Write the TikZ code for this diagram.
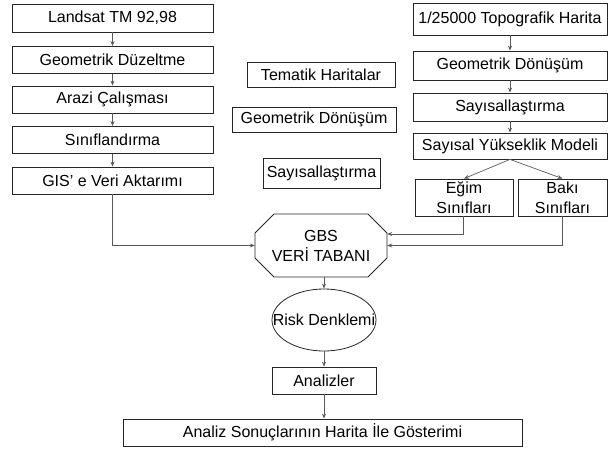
\documentclass[tikz,border=0pt]{standalone}
\usepackage{fontspec}
\setmainfont{Liberation Sans}
\usetikzlibrary{shapes.geometric,arrows.meta}
\begin{document}
\begin{tikzpicture}[x=1pt,y=-1pt,
  font=\fontsize{16}{20}\selectfont,
  box/.style={draw=black!85,line width=0.8pt,rectangle,inner sep=0pt,align=center},
  arr/.style={draw=black!65,line width=0.7pt,-{Stealth[length=5pt,width=4pt]}},
  ln/.style={draw=black!65,line width=0.7pt}]
\useasboundingbox (0,0) rectangle (608,453);
% left column
\node[box,minimum width=201,minimum height=28] (l1) at (112.5,18) {Landsat TM 92,98};
\node[box,minimum width=201,minimum height=27] (l2) at (112.5,60) {Geometrik Düzeltme};
\node[box,minimum width=201,minimum height=27] (l3) at (112.5,99.5) {Arazi Çalışması};
\node[box,minimum width=201,minimum height=27] (l4) at (112.5,140) {Sınıflandırma};
\node[box,minimum width=201,minimum height=27] (l5) at (112.5,180.5) {GIS' e Veri Aktarımı};
% right column
\node[box,minimum width=194,minimum height=32] (r1) at (510,19) {1/25000 Topografik Harita};
\node[box,minimum width=194,minimum height=29] (r2) at (510,65.5) {Geometrik Dönüşüm};
\node[box,minimum width=194,minimum height=28] (r3) at (510,107) {Sayısallaştırma};
\node[box,minimum width=194,minimum height=26] (r4) at (510,146) {Sayısal Yükseklik Modeli};
\node[box,minimum width=98,minimum height=37] (egim) at (464,197.5) {Eğim\\Sınıfları};
\node[box,minimum width=89,minimum height=37] (baki) at (562.5,197.5) {Bakı\\Sınıfları};
% middle standalone boxes
\node[box,minimum width=148,minimum height=25] (m1) at (321,74.5) {Tematik Haritalar};
\node[box,minimum width=164,minimum height=25] (m2) at (314,119.5) {Geometrik Dönüşüm};
\node[box,minimum width=117,minimum height=30] (m3) at (321.5,173) {Sayısallaştırma};
% GBS octagon
\node[minimum width=132,minimum height=63,inner sep=0pt,align=center] (gbs) at (321,245.5) {GBS\\VERİ TABANI};
\draw[black!85,line width=0.8pt] (255,233) -- (274,214) -- (368,214) -- (387,233) -- (387,258) -- (368,277) -- (274,277) -- (255,258) -- cycle;
% ellipse
\node[ellipse,draw=black!85,line width=0.8pt,minimum width=104,minimum height=62,inner sep=0pt] (risk) at (324,320) {};
\node (risktext) at (risk) {Risk Denklemi};
\node[box,minimum width=104,minimum height=27] (an) at (324,380.5) {Analizler};
\node[box,minimum width=399,minimum height=27] (fin) at (322.5,432.5) {Analiz Sonuçlarının Harita İle Gösterimi};
% arrows
\draw[arr] (l1) -- (l2);
\draw[arr] (l2) -- (l3);
\draw[arr] (l3) -- (l4);
\draw[arr] (l4) -- (l5);
\draw[arr] (r1) -- (r2);
\draw[arr] (r2) -- (r3);
\draw[arr] (r3) -- (r4);
\draw[arr] (r4.south) -- (egim.north);
\draw[arr] (r4.south) -- (baki.north);
\draw[arr] (l5.south) |- (gbs.west);
\draw[arr] (egim.south -| 463,0) |- ([yshift=11.5pt]gbs.east);
\draw[arr] (baki.south) |- (gbs.east);
\draw[arr] (gbs.south -| risk.north) -- (risk.north);
\draw[arr] (risk.south) -- (an.north);
\draw[arr] (an.south) -- (an.south |- fin.north);
\end{tikzpicture}
\end{document}
